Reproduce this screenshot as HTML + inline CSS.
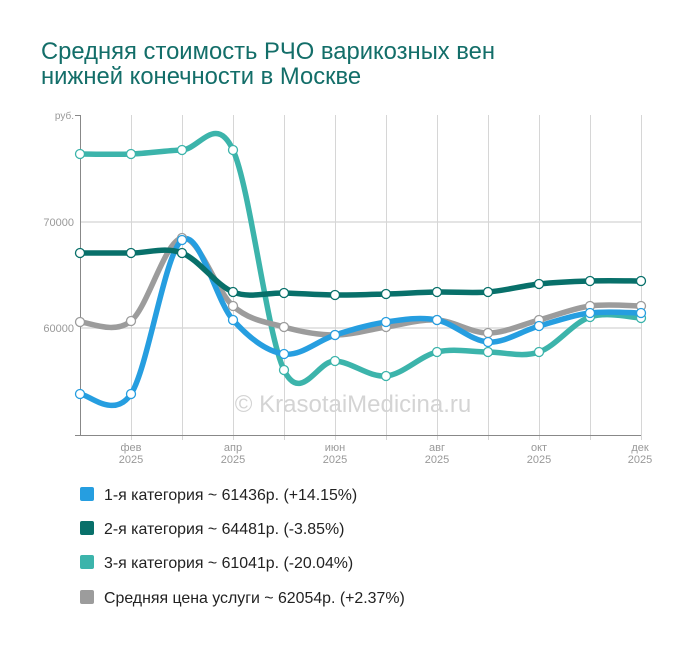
<!DOCTYPE html>
<html><head><meta charset="utf-8"><style>
body{margin:0;background:#fff;width:700px;height:646px;overflow:hidden;font-family:"Liberation Sans",sans-serif}
</style></head><body>
<svg id="s" width="700" height="646" xmlns="http://www.w3.org/2000/svg" font-family="Liberation Sans, sans-serif">
<text x="41" y="59" font-size="23.8" fill="#136e69">Средняя стоимость РЧО варикозных вен</text>
<text x="41" y="84" font-size="23.8" fill="#136e69">нижней конечности в Москве</text>
<g stroke="#ddd" stroke-width="1">
<line x1="80" y1="222" x2="641" y2="222" stroke-width="2" stroke="#e4e4e4"/>
<line x1="80" y1="328" x2="641" y2="328" stroke-width="2" stroke="#e4e4e4"/>
</g>
<g id="vg" stroke="#d6d6d6" stroke-width="1"></g>
<line x1="80.5" y1="115" x2="80.5" y2="436" stroke="#888"/>
<line x1="75" y1="115.5" x2="80" y2="115.5" stroke="#888"/>
<line x1="75" y1="435.5" x2="641" y2="435.5" stroke="#888"/>
<text x="74" y="119" font-size="10" fill="#999" text-anchor="end">руб.</text>
<text x="74" y="226" font-size="11" fill="#999" text-anchor="end">70000</text>
<text x="74" y="332" font-size="11" fill="#999" text-anchor="end">60000</text>
<g font-size="11" fill="#999" text-anchor="middle">
<text x="131" y="451">фев</text><text x="131" y="463">2025</text>
<text x="233" y="451">апр</text><text x="233" y="463">2025</text>
<text x="335" y="451">июн</text><text x="335" y="463">2025</text>
<text x="437" y="451">авг</text><text x="437" y="463">2025</text>
<text x="539" y="451">окт</text><text x="539" y="463">2025</text>
<text x="640" y="451">дек</text><text x="640" y="463">2025</text>
</g>
<text x="353" y="412" font-size="24" fill="#d4d4d4" text-anchor="middle">© KrasotaiMedicina.ru</text>
<g id="lines"></g>
<g font-size="15.9" fill="#222">
<rect x="80" y="487" width="14" height="14" rx="2" fill="#269ee0"/><text x="104" y="500">1-я категория ~ 61436р. (+14.15%)</text>
<rect x="80" y="521" width="14" height="14" rx="2" fill="#08706a"/><text x="104" y="534">2-я категория ~ 64481р. (-3.85%)</text>
<rect x="80" y="555" width="14" height="14" rx="2" fill="#3cb4ab"/><text x="104" y="568">3-я категория ~ 61041р. (-20.04%)</text>
<rect x="80" y="590" width="14" height="14" rx="2" fill="#9c9c9c"/><text x="104" y="603">Средняя цена услуги ~ 62054р. (+2.37%)</text>
</g>
</svg>
<script>
var xs=[];for(var i=0;i<12;i++)xs.push(80+51*i);xs[11]=641;
var vg=document.getElementById('vg'),ns='http://www.w3.org/2000/svg';
for(var i=1;i<12;i++){var l=document.createElementNS(ns,'line');l.setAttribute('x1',xs[i]+.5);l.setAttribute('x2',xs[i]+.5);l.setAttribute('y1',115);l.setAttribute('y2',440);vg.appendChild(l);}
var S=[
{c:'#3cb4ab',y:[154,154,150,150,370,361,376,352,352,352,317,318]},
{c:'#9c9c9c',y:[322,321,238,306,327,335,327,320,333,320,306,306]},
{c:'#269ee0',y:[394,394,240,320,354,335,322,320,342,326,313,313]},
{c:'#08706a',y:[253,253,253,292,293,295,294,292,292,284,281,281]}
];
function path(y){var d='M'+xs[0]+','+y[0];for(var i=0;i<11;i++){var p0=i?i-1:i,p3=i<10?i+2:i+1;
var c1x=xs[i]+(xs[i+1]-xs[p0])/6,c1y=y[i]+(y[i+1]-y[p0])/6,c2x=xs[i+1]-(xs[p3]-xs[i])/6,c2y=y[i+1]-(y[p3]-y[i])/6;
d+='C'+c1x+','+c1y+' '+c2x+','+c2y+' '+xs[i+1]+','+y[i+1];}return d;}
var g=document.getElementById('lines'),h='';
S.forEach(function(s){h+='<path d="'+path(s.y)+'" fill="none" stroke="'+s.c+'" stroke-width="5.5" stroke-linecap="round"/>';});
S.forEach(function(s){s.y.forEach(function(v,i){h+='<circle cx="'+xs[i]+'" cy="'+v+'" r="4.5" fill="#fff" stroke="'+s.c+'" stroke-width="1.3"/>';});});
g.innerHTML=h;
</script>
</body></html>
